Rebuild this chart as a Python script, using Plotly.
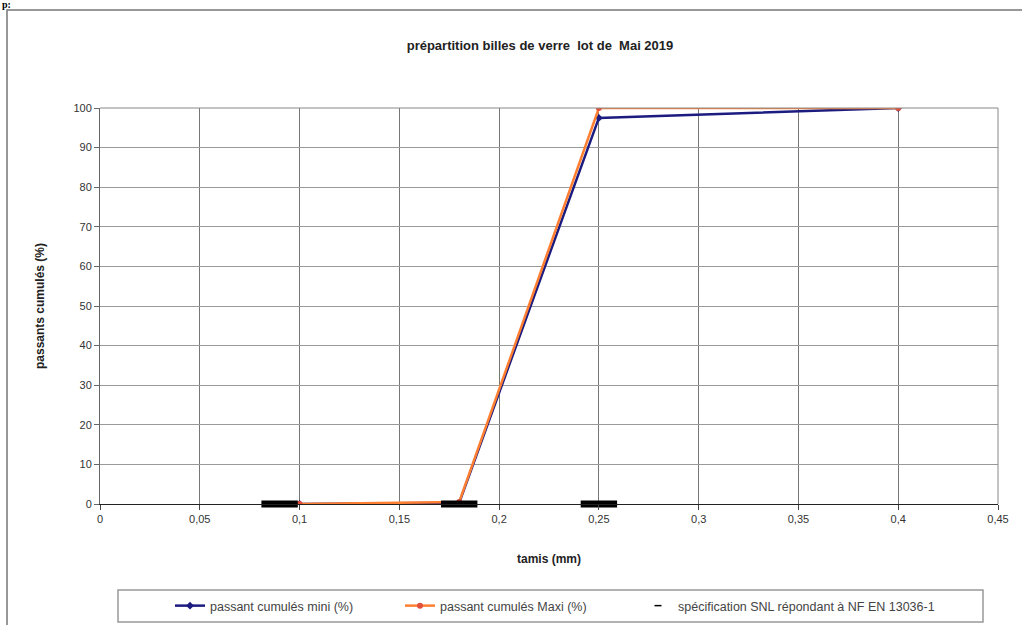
import plotly.graph_objects as go

# data
tamis = [0.1, 0.18, 0.25, 0.4]
passant_mini = [0, 0.3, 97.5, 100]
passant_maxi = [0, 0.5, 100, 100]
spec_x = [0.09, 0.18, 0.25]
spec_y = [0, 0, 0]

title = "prépartition billes de verre  lot de  Mai 2019"
font = "Liberation Sans, Arial, sans-serif"

fig = go.Figure()
fig.add_trace(go.Scatter(
    x=tamis, y=passant_mini, mode="lines+markers",
    name="passant cumulés mini (%)", legend="legend",
    line=dict(color="#1c1c80", width=2.5),
    marker=dict(symbol="diamond", size=6, color="#1c1c80"),
))
fig.add_trace(go.Scatter(
    x=tamis, y=passant_maxi, mode="lines+markers",
    name="passant cumulés Maxi (%)", legend="legend2",
    line=dict(color="#ff7f32", width=2.5),
    marker=dict(symbol="circle", size=6, color="#e0503a"),
))
fig.add_trace(go.Scatter(
    x=spec_x, y=spec_y, mode="markers", showlegend=False,
    name="spécification SNL répondant à NF EN 13036-1",
    marker=dict(symbol="line-ew", size=26, color="black",
                line=dict(color="black", width=7)),
    cliponaxis=False,
))
# legend-only entry with small dash marker
fig.add_trace(go.Scatter(
    x=[None], y=[None], mode="markers", legend="legend3",
    name="spécification SNL répondant à NF EN 13036-1",
    marker=dict(symbol="line-ew", size=5, color="black",
                line=dict(color="black", width=1.5)),
))

leg_common = dict(orientation="h", xref="container", xanchor="left",
                  yref="container", y=1 - 606 / 625, yanchor="middle",
                  borderwidth=0, bgcolor="rgba(0,0,0,0)",
                  font=dict(size=12.5, color="#444"))

fig.update_layout(
    width=1022, height=625,
    margin=dict(l=100, r=24, t=108, b=121),
    paper_bgcolor="white", plot_bgcolor="white",
    separators=", ",
    font=dict(family=font, size=11, color="#333"),
    title=dict(text="<b>" + title + "</b>", x=540 / 1022, xanchor="center",
               y=1 - 45 / 625, yanchor="middle",
               font=dict(size=13, color="#222", family=font)),
    showlegend=True,
    legend=dict(x=170 / 1022, **leg_common),
    legend2=dict(x=400 / 1022, **leg_common),
    legend3=dict(x=638 / 1022, **leg_common),
    xaxis=dict(range=[0, 0.45], dtick=0.05, tick0=0, automargin=False,
               showgrid=True, gridcolor="#777", gridwidth=1,
               showline=True, linecolor="#222", linewidth=1, mirror=False,
               ticks="outside", ticklen=5, tickcolor="#444",
               tickfont=dict(color="#333"),
               zeroline=False,
               title=dict(text="<b>tamis (mm)</b>", standoff=30,
                          font=dict(size=12, color="#222"))),
    yaxis=dict(range=[0, 100], dtick=10, automargin=False,
               showgrid=True, gridcolor="#999", gridwidth=1,
               showline=True, linecolor="#666", linewidth=1,
               ticks="outside", ticklen=5, tickcolor="#666",
               tickfont=dict(color="#333"),
               zeroline=False,
               title=dict(text="<b>passants cumulés (%)</b>", standoff=26,
                          font=dict(size=12, color="#222"))),
)

# plot frame top/right
fig.add_shape(type="line", xref="paper", yref="paper", x0=0, x1=1, y0=1, y1=1,
              line=dict(color="#888", width=1))
fig.add_shape(type="line", xref="paper", yref="paper", x0=1, x1=1, y0=0, y1=1,
              line=dict(color="#888", width=1))
# outer chart border
fig.add_shape(type="rect", xref="paper", yref="paper",
              x0=(7 - 100) / 898, x1=(1030 - 100) / 898,
              y0=(504 - 640) / 396, y1=(504 - 10) / 396,
              line=dict(color="#777", width=1.5), layer="below")
# legend frame
fig.add_shape(type="rect", xref="paper", yref="paper",
              x0=(118 - 100) / 898, x1=(983 - 100) / 898,
              y0=(504 - 622) / 396, y1=(504 - 590) / 396,
              line=dict(color="#999", width=1.5), fillcolor="white", layer="below")
# document text top-left
fig.add_annotation(text="<b>p:</b>", xref="paper", yref="paper",
                   x=(0 - 100) / 898, y=(504 - 4) / 396, xanchor="left", yanchor="middle",
                   showarrow=False, font=dict(family="Liberation Serif", size=10, color="black"))

fig.write_html("out.html", config={"displayModeBar": False},
               post_script="document.body.style.margin='0';document.body.style.overflow='hidden';")
